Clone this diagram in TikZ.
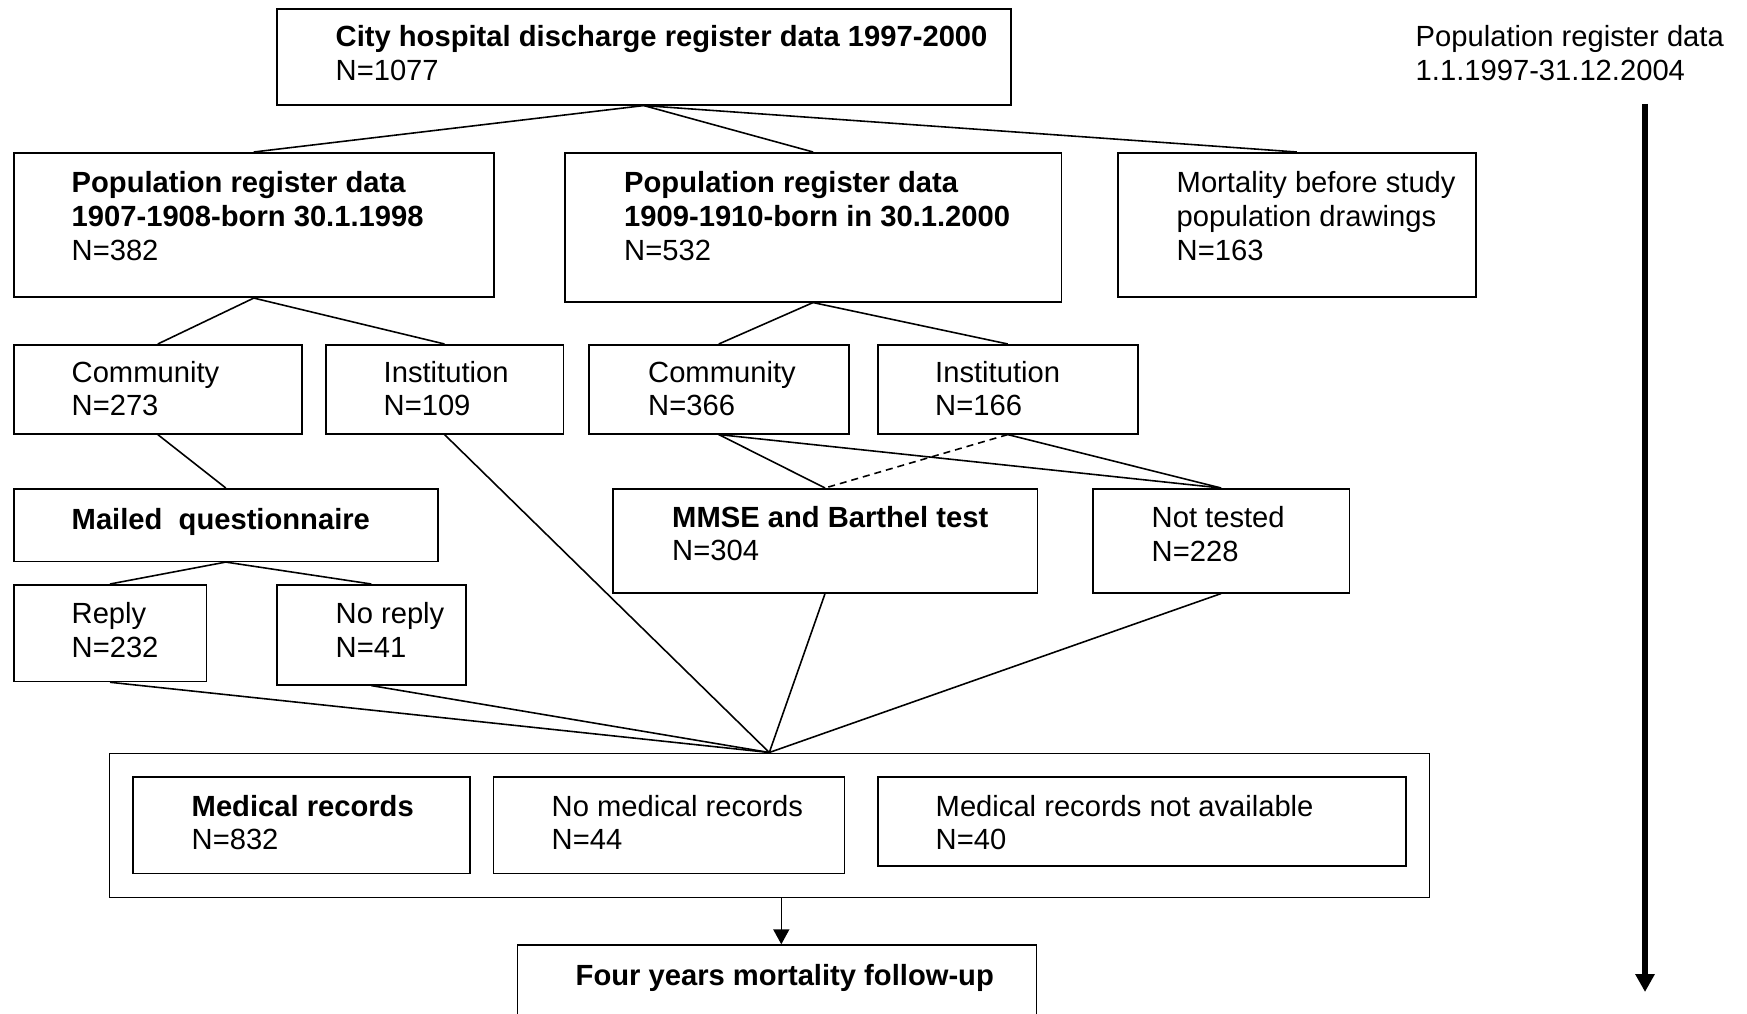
\documentclass[tikz,border=0pt]{standalone}
\usepackage{fontspec}
\setmainfont{Liberation Sans}
\usetikzlibrary{arrows.meta,calc}

\begin{document}
\begin{tikzpicture}[x=1cm, y=-1cm,
    box/.style={draw, line width=0.45pt, anchor=north west, inner sep=0pt},
    txt/.style={anchor=north west, align=left, inner sep=0pt, font=\fontsize{8.3}{9.6}\selectfont},
    link/.style={line width=0.45pt}]
        \clip (0,0) rectangle (17.47,10.14);
        % boxes: name/x/y/width/height
        \foreach \n/\x/\y/\w/\h in {hosp/2.76/0.08/7.34/0.96, pop1/0.13/1.52/4.80/1.445,
            pop2/5.64/1.52/4.965/1.49, mort/11.17/1.52/3.58/1.445,
            com1/0.13/3.44/2.88/0.89, inst1/3.25/3.44/2.375/0.89,
            com2/5.88/3.44/2.60/0.89, inst2/8.77/3.44/2.60/0.89,
            mail/0.13/4.88/4.24/0.725, mmse/6.12/4.88/4.245/1.04, nott/10.92/4.88/2.565/1.04,
            reply/0.13/5.84/1.925/0.967, norep/2.76/5.84/1.89/1.00,
            recs/1.085/7.525/13.20/1.44, med/1.32/7.76/3.37/0.965,
            nomed/4.925/7.76/3.51/0.965, notav/8.77/7.76/5.28/0.89,
            follow/5.165/9.443/5.19/1.0}
        {
            \node[box, minimum width=\w cm, minimum height=\h cm] (\n) at (\x,\y) {};
        }

        % texts
        \node[txt] (hospT) at ($(hosp.north west)+(0.59,0.144)$)
            {\strut\textbf{City hospital discharge register data 1997-2000}\\N=1077};
        \node[txt] (pop1T) at ($(pop1.north west)+(0.58,0.165)$)
            {\strut\textbf{Population register data}\\\textbf{1907-1908-born 30.1.1998}\\N=382};
        \node[txt] (pop2T) at ($(pop2.north west)+(0.595,0.165)$)
            {\strut\textbf{Population register data}\\\textbf{1909-1910-born in 30.1.2000}\\N=532};
        \node[txt] (mortT) at ($(mort.north west)+(0.59,0.165)$)
            {\strut Mortality before study\\population drawings\\N=163};
        \node[txt] (com1T) at ($(com1.north west)+(0.58,0.138)$) {\strut Community\\N=273};
        \node[txt] (inst1T) at ($(inst1.north west)+(0.58,0.138)$) {\strut Institution\\N=109};
        \node[txt] (com2T) at ($(com2.north west)+(0.595,0.138)$) {\strut Community\\N=366};
        \node[txt] (inst2T) at ($(inst2.north west)+(0.575,0.138)$) {\strut Institution\\N=166};
        \node[txt] (mailT) at ($(mail.north west)+(0.58,0.173)$) {\strut\textbf{Mailed\ \ questionnaire}};
        \node[txt] (mmseT) at ($(mmse.north west)+(0.595,0.148)$) {\strut\textbf{MMSE and Barthel test}\\N=304};
        \node[txt] (nottT) at ($(nott.north west)+(0.59,0.153)$) {\strut Not tested\\N=228};
        \node[txt] (replyT) at ($(reply.north west)+(0.58,0.153)$) {\strut Reply\\N=232};
        \node[txt] (norepT) at ($(norep.north west)+(0.59,0.153)$) {\strut No reply\\N=41};
        \node[txt] (medT) at ($(med.north west)+(0.59,0.158)$) {\strut\textbf{Medical records}\\N=832};
        \node[txt] (nomedT) at ($(nomed.north west)+(0.585,0.158)$) {\strut No medical records\\N=44};
        \node[txt] (notavT) at ($(notav.north west)+(0.58,0.158)$) {\strut Medical records not available\\N=40};
        \node[txt] (followT) at ($(follow.north west)+(0.585,0.17)$) {\strut\textbf{Four years mortality follow-up}};
        \node[txt] (regT) at (14.15,0.221) {\strut Population register data\\1.1.1997-31.12.2004};

        % connectors
        \foreach \a/\b in {hosp/pop1, hosp/pop2, hosp/mort, pop1/com1, pop1/inst1,
            pop2/com2, pop2/inst2, com1/mail, mail/reply, mail/norep,
            com2/mmse, com2/nott, inst2/nott,
            inst1/recs, reply/recs, norep/recs, mmse/recs, nott/recs}
        {
            \draw[link] (\a.south) -- (\b.north);
        }
        \draw[link, dash pattern=on 0.07cm off 0.05cm] (inst2.south) -- (mmse.north);

        \coordinate (fin) at ([xshift=0.045cm]follow.north);
        \draw[link, -{Triangle[length=0.15cm, width=0.16cm]}] (fin |- recs.south) -- (fin);

        % time line
        \coordinate (tTop) at (16.45,1.04);
        \coordinate (tBot) at (16.45,9.92);
        \draw[line width=1.7pt, -{Triangle[length=0.18cm, width=0.185cm]}] (tTop) -- (tBot);
    \end{tikzpicture}
\end{document}
